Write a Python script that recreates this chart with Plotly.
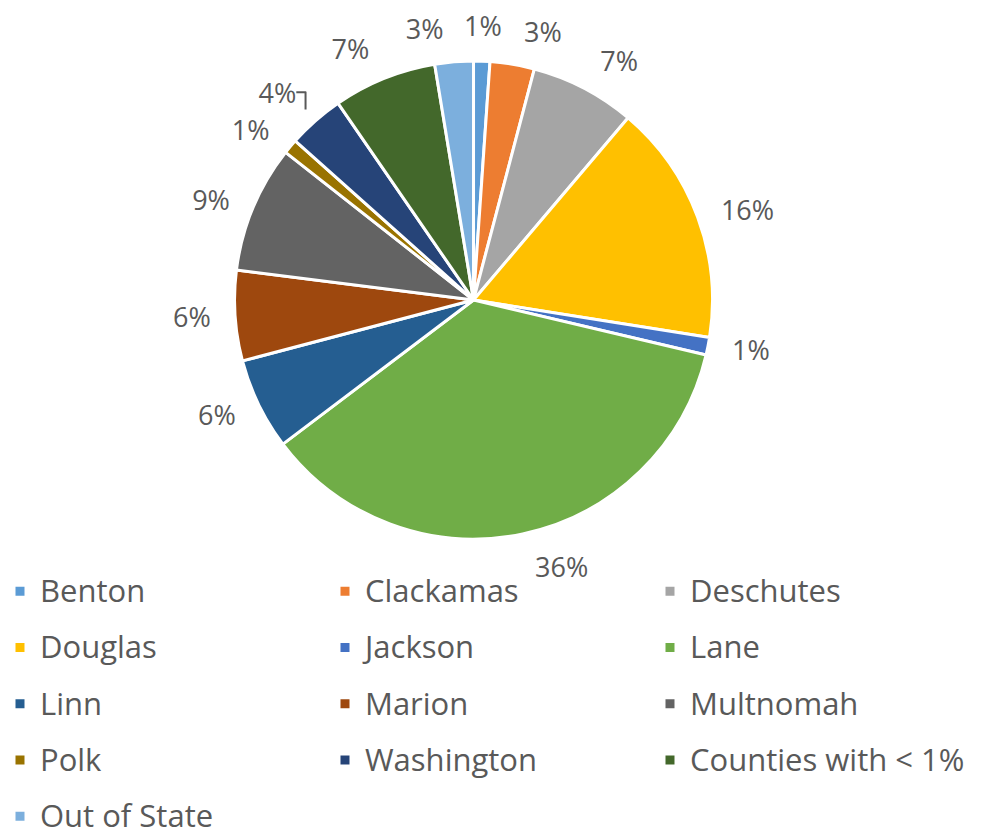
import math
import plotly.graph_objects as go

counties = ["Benton", "Clackamas", "Deschutes", "Douglas", "Jackson", "Lane",
            "Linn", "Marion", "Multnomah", "Polk", "Washington",
            "Counties with < 1%", "Out of State"]
shares = [1.1, 3.0, 7.1, 16.3, 1.2, 36.0, 6.2, 6.1, 8.6, 1.0, 3.8, 7.0, 2.6]
colors = ["#5B9BD5", "#ED7D31", "#A5A5A5", "#FFC000", "#4472C4", "#70AD47",
          "#255E91", "#9E480E", "#636363", "#997300", "#264478", "#43682B",
          "#7CAFDD"]

TEXT = "#595959"
FONT = "Open Sans, Noto Sans, sans-serif"
LABEL_SIZE = 27

W, H = 982, 840
MARGIN_B = 290
PLOT_H = H - MARGIN_B

legend_labels = [f"<span style='font-size:31px;baseline-shift:5px'>{c}</span>"
                 for c in counties]

pie_domain = dict(x=[0.2307, 0.7174], y=[0.0345, 0.9036])
label_domain = dict(x=[0.2154, 0.7327], y=[0.0073, 0.9309])
clear = ["rgba(0,0,0,0)"] * len(counties)

fig = go.Figure()

# the coloured pie (legend comes from it)
fig.add_trace(go.Pie(
    labels=legend_labels,
    values=shares,
    sort=False,
    direction="clockwise",
    rotation=0,
    marker=dict(colors=colors, line=dict(color="white", width=3)),
    textposition="none",
    hoverinfo="label+percent",
    domain=pie_domain,
))

# percentage labels carried by transparent rings of the same data,
# split in groups so that neighbouring labels do not get pushed off the top
second_ring = {"Clackamas", "Out of State"}
own_label = {"Benton"}
groups = [
    ["none" if (c in second_ring or c in own_label) else "outside" for c in counties],
    ["outside" if c in second_ring else "none" for c in counties],
]
for positions in groups:
    fig.add_trace(go.Pie(
        labels=counties,
        values=shares,
        sort=False,
        direction="clockwise",
        rotation=0,
        marker=dict(colors=clear, line=dict(width=0)),
        textposition=positions,
        texttemplate="%{percent:.0%}",
        outsidetextfont=dict(family=FONT, size=LABEL_SIZE, color=TEXT),
        hoverinfo="skip",
        showlegend=False,
        domain=label_domain,
    ))

# label of the thin slice at 12 o'clock, centred on its mid-angle
total = sum(shares)
cx = W * (pie_domain["x"][0] + pie_domain["x"][1]) / 2
cy = PLOT_H * (1 - (pie_domain["y"][0] + pie_domain["y"][1]) / 2)
r = PLOT_H * (pie_domain["y"][1] - pie_domain["y"][0]) / 2
label_r = r + 36
cum = 0.0
for c, v in zip(counties, shares):
    if c in own_label:
        ang = 2 * math.pi * (cum + v / 2) / total
        px = cx + label_r * math.sin(ang)
        py = cy - label_r * math.cos(ang)
        fig.add_annotation(
            x=px / W, y=1 - py / PLOT_H, xref="paper", yref="paper",
            text=f"{round(100 * v / total)}%", showarrow=False,
            xanchor="center", yanchor="middle",
            font=dict(family=FONT, size=LABEL_SIZE, color=TEXT),
        )
    cum += v

fig.update_layout(
    width=W, height=H,
    margin=dict(l=0, r=0, t=0, b=MARGIN_B, autoexpand=False),
    paper_bgcolor="white",
    plot_bgcolor="white",
    font=dict(family=FONT, color=TEXT),
    legend=dict(
        orientation="h",
        x=-0.00815, xanchor="left",
        y=0, yanchor="top",
        entrywidth=280,
        bgcolor="rgba(0,0,0,0)",
        font=dict(family=FONT, size=41, color=TEXT),
        itemwidth=30,
    ),
    showlegend=True,
)

fig.write_html("out.html")
